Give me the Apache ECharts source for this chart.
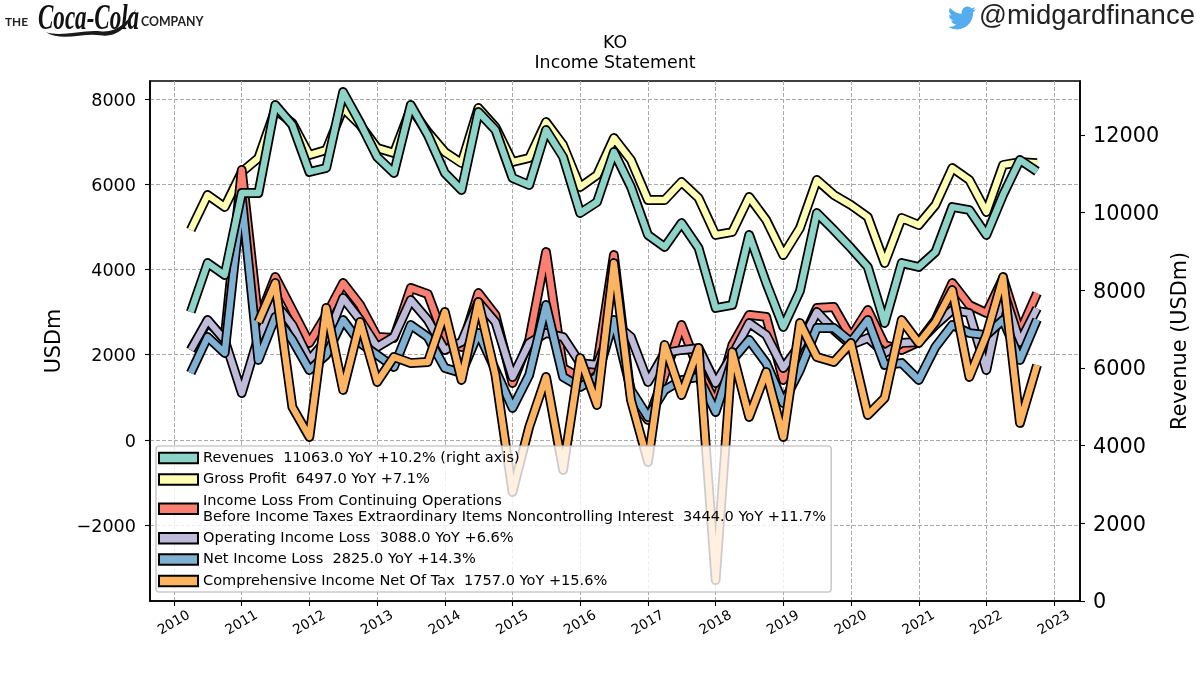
<!DOCTYPE html>
<html>
<head>
<meta charset="utf-8">
<style>html,body{margin:0;padding:0;background:#fff}#chart{width:1200px;height:675px}</style>
<script src="https://cdn.jsdelivr.net/npm/echarts@6/dist/echarts.min.js"></script>
</head>
<body>
<div id="chart"></div>
<script>
// Coca-Cola quarterly income statement, USD millions
const quarters = [
  '2010-04-01','2010-07-01','2010-10-01','2011-01-01','2011-04-01','2011-07-01','2011-10-01',
  '2012-01-01','2012-04-01','2012-07-01','2012-10-01','2013-01-01','2013-04-01','2013-07-01','2013-10-01',
  '2014-01-01','2014-04-01','2014-07-01','2014-10-01','2015-01-01','2015-04-01','2015-07-01','2015-10-01',
  '2016-01-01','2016-04-01','2016-07-01','2016-10-01','2017-01-01','2017-04-01','2017-07-01','2017-10-01',
  '2018-01-01','2018-04-01','2018-07-01','2018-10-01','2019-01-01','2019-04-01','2019-07-01','2019-10-01',
  '2020-01-01','2020-04-01','2020-07-01','2020-10-01','2021-01-01','2021-04-01','2021-07-01','2021-10-01',
  '2022-01-01','2022-04-01','2022-07-01','2022-10-01'
];
const revenues = [7442,8704,8395,10506,10506,12772,12257,11047,11150,13107,12309,11433,11021,12772,12000,11021,10583,12592,12128,10892,10712,12128,11433,9991,10274,11562,10661,9425,9116,9734,9090,7545,7622,9425,8189,7056,7983,9991,9553,9090,8601,7159,8704,8601,8987,10146,10068,9425,10455,11356,11063];
const grossProfit = [4927,5748,5466,6287,6616,7750,7437,6686,6803,7780,7390,6850,6733,7780,7226,6756,6498,7789,7343,6522,6616,7460,6921,5935,6217,7085,6569,5630,5630,6053,5677,4809,4880,5701,5161,4340,4974,6100,5748,5513,5232,4152,5208,5044,5513,6381,6100,5349,6452,6520,6497];
const pretaxIncome = [2111,2768,2393,6334,2815,3824,3050,2276,2933,3683,3167,2416,2393,3566,3425,2346,2182,3449,2933,1337,2346,4410,1689,1455,1760,4340,1009,469,1525,2698,1642,868,2229,2933,2886,1408,2229,3097,3120,2416,3050,2229,2111,2299,2815,3683,3167,2979,3801,2534,3444];
const operatingIncome = [2111,2815,2346,1103,2416,3214,2698,1877,2346,3331,2815,2182,2416,3284,2815,2111,2299,3237,2768,1478,2276,2510,2416,1806,1760,2745,2416,1361,2041,2111,2158,1337,1994,2745,2463,1689,2229,3003,2581,2229,2393,2041,2276,2299,2698,3050,2979,1642,3519,2299,3088];
const netIncome = [1572,2416,2041,5700,1877,2886,2346,1642,1994,2815,2276,1994,1713,2698,2416,1689,1572,2510,1642,751,1525,3167,1478,1243,1478,2815,1173,540,1173,1408,1478,657,1877,2346,1806,868,1642,2628,2628,2299,2815,1760,1806,1408,2182,2698,2510,2463,2815,1877,2825];
const comprehensiveIncome = [null,null,null,null,2768,3683,774,70,3097,1173,2768,1361,1947,1806,1830,3003,1408,3237,1525,-1220,305,1478,-704,1924,821,4152,938,-516,2229,1056,2158,-3284,2064,540,1595,70,2745,1947,1830,2276,587,985,2815,2276,2768,3519,1478,2463,3824,399,1757];

const legendLabels = [
  'Revenues  11063.0 YoY +10.2% (right axis)',
  'Gross Profit  6497.0 YoY +7.1%',
  'Income Loss From Continuing Operations\nBefore Income Taxes Extraordinary Items Noncontrolling Interest  3444.0 YoY +11.7%',
  'Operating Income Loss  3088.0 YoY +6.6%',
  'Net Income Loss  2825.0 YoY +14.3%',
  'Comprehensive Income Net Of Tax  1757.0 YoY +15.6%'
];
const lineColors = ['#8dd3c7','#ffffb3','#fb8072','#bebada','#80b1d3','#fdb462'];
const lineValues = [revenues, grossProfit, pretaxIncome, operatingIncome, netIncome, comprehensiveIncome];
const lineAxis = [1, 0, 0, 0, 0, 0];
const drawOrder = [1, 2, 3, 4, 5, 0];

const yearTicks = [2010,2011,2012,2013,2014,2015,2016,2017,2018,2019,2020,2021,2022,2023];
const leftTicks = [-2000,0,2000,4000,6000,8000];
const rightTicks = [0,2000,4000,6000,8000,10000,12000];

const FONT = '"DejaVu Sans"';
const stamp = s => Date.parse(s + 'T00:00:00Z');
const yearStamps = yearTicks.map(y => Date.UTC(y, 0, 1));

const BIRD = 'M23.953 4.57 a10 10 0 0 1 -2.825 .775 4.958 4.958 0 0 0 2.163 -2.723 c-.951.555-2.005.959-3.127 1.184 a4.92 4.92 0 0 0 -8.384 4.482 C7.69 8.095 4.067 6.13 1.64 3.162 a4.822 4.822 0 0 0 -.666 2.475 c0 1.71.87 3.213 2.188 4.096 a4.904 4.904 0 0 1 -2.228 -.616 v.06 a4.923 4.923 0 0 0 3.946 4.827 4.996 4.996 0 0 1 -2.212 .085 4.936 4.936 0 0 0 4.604 3.417 9.867 9.867 0 0 1 -6.102 2.105 c-.39 0-.779-.023-1.17-.067 a13.995 13.995 0 0 0 7.557 2.209 c9.053 0 13.998-7.496 13.998-13.985 0-.21 0-.42-.015-.63 A9.935 9.935 0 0 0 24 4.59 z';
const RIBBON = 'M46 30 C62 35 84 27 100 29 C118 31 128 18 136 7 C130 22 118 36 100 33 C84 30 62 40 46 30 Z';

// every line is a wide black stroke with a narrower coloured stroke on top
const series = [];
drawOrder.forEach(i => {
  const points = quarters.map((q, k) => [stamp(q), lineValues[i][k]]);
  const base = {
    type: 'line', yAxisIndex: lineAxis[i], data: points, showSymbol: false, symbol: 'none',
    connectNulls: false, silent: true, animation: false
  };
  series.push(Object.assign({}, base, {
    name: 'outline ' + i,
    lineStyle: { color: '#000', width: 9.8, join: 'round', cap: 'butt' },
    itemStyle: { color: '#000' }
  }));
  series.push(Object.assign({}, base, {
    name: legendLabels[i],
    lineStyle: { color: lineColors[i], width: 6.3, join: 'round', cap: 'butt' },
    itemStyle: { color: lineColors[i] }
  }));
});

// page header artwork: Twitter bird and the ribbon under the wordmark
series.push({
  type: 'custom', coordinateSystem: 'none', silent: true, data: [0],
  renderItem: () => ({
    type: 'group',
    children: [
      { type: 'path', shape: { pathData: BIRD, x: 948, y: 6, width: 28, height: 24 }, style: { fill: '#55acee' } },
      { type: 'path', shape: { pathData: RIBBON, x: 46, y: 9, width: 90, height: 28 }, style: { fill: '#1a1a1a' } }
    ]
  })
});

const option = {
  backgroundColor: '#fff',
  animation: false,
  title: {
    text: 'KO\nIncome Statement', left: 610, top: 28, textAlign: 'center',
    textStyle: { fontFamily: FONT, fontSize: 17.4, fontWeight: 'normal', color: '#000', lineHeight: 20 }
  },
  grid: { left: 150, right: 120, top: 81, height: 520, show: true, borderColor: '#000', borderWidth: 1.6, backgroundColor: 'transparent' },
  legend: {
    orient: 'vertical', left: 156, top: 446, padding: [4, 5, 3, 2],
    itemWidth: 39, itemHeight: 10.5, itemGap: 5.4, selectedMode: false,
    backgroundColor: 'rgba(255,255,255,0.8)', borderColor: 'rgba(190,190,190,0.8)', borderWidth: 1.6, borderRadius: 3,
    textStyle: { fontFamily: FONT, fontSize: 14.55, color: '#000', lineHeight: 16 },
    data: [0, 1, 2, 3, 4, 5].map(i => ({
      name: legendLabels[i], icon: 'rect',
      itemStyle: { color: lineColors[i], borderColor: '#000', borderWidth: 2 }
    }))
  },
  xAxis: {
    type: 'value', min: stamp('2009-08-24'), max: stamp('2023-05-21'),
    axisLine: { show: true, onZero: false, lineStyle: { color: '#000', width: 1.6 } },
    axisTick: { show: true, length: 5, customValues: yearStamps, lineStyle: { color: '#000', width: 1.1 } },
    axisLabel: {
      show: true, rotate: 30, margin: 22, align: 'center', verticalAlign: 'middle',
      customValues: yearStamps, fontFamily: FONT, fontSize: 13.6, color: '#000',
      hideOverlap: false, formatter: v => String(new Date(v).getUTCFullYear())
    },
    splitLine: { show: true, lineStyle: { color: '#aaa', type: [4, 2], width: 1 } }
  },
  yAxis: [
    {
      type: 'value', min: -3777, max: 8422, position: 'left',
      name: 'USDm', nameLocation: 'middle', nameGap: 78, nameRotate: 90,
      nameTextStyle: { fontFamily: FONT, fontSize: 20.8, color: '#000' },
      axisLine: { show: true, onZero: false, lineStyle: { color: '#000', width: 1.6 } },
      axisTick: { show: true, length: 5, customValues: leftTicks, lineStyle: { color: '#000', width: 1.1 } },
      axisLabel: {
        customValues: leftTicks, color: '#000', margin: 14,
        rich: { t: { fontFamily: FONT, fontSize: 17.6, color: '#000', padding: [4, 0, 0, 0] } },
        formatter: v => '{t|' + String(v).replace('-', '\u2212') + '}'
      },
      splitLine: { show: true, lineStyle: { color: '#aaa', type: [4, 2], width: 1 } }
    },
    {
      type: 'value', min: 0, max: 13390, position: 'right',
      name: 'Revenue (USDm)', nameLocation: 'middle', nameGap: 87, nameRotate: 90,
      nameTextStyle: { fontFamily: FONT, fontSize: 20.8, color: '#000' },
      axisLine: { show: true, onZero: false, lineStyle: { color: '#000', width: 1.6 } },
      axisTick: { show: true, length: 5, customValues: rightTicks, lineStyle: { color: '#000', width: 1.1 } },
      axisLabel: {
        customValues: rightTicks, color: '#000', margin: 13,
        rich: { t: { fontFamily: FONT, fontSize: 20.8, color: '#000', padding: [4, 0, 0, 0] } },
        formatter: v => '{t|' + v + '}'
      },
      splitLine: { show: false }
    }
  ],
  series: series,
  graphic: [
    { type: 'text', x: 5, y: 16, style: { text: 'THE', font: '700 11.8px Lato', fill: '#222' } },
    { type: 'text', x: 141, y: 16, style: { text: 'COMPANY', font: '700 12.3px Lato', fill: '#222' } },
    { type: 'text', x: 38, y: 2, scaleX: 0.64, style: { text: 'Coca-Cola', font: 'italic 700 36px "Liberation Serif"', fill: '#111' } },
    { type: 'text', x: 979, y: 2, style: { text: '@midgardfinance', font: '27.5px "Liberation Sans"', fill: '#222' } }
  ]
};

const chart = echarts.init(document.getElementById('chart'), null, { renderer: 'canvas' });
chart.setOption(option);
</script>
</body>
</html>
